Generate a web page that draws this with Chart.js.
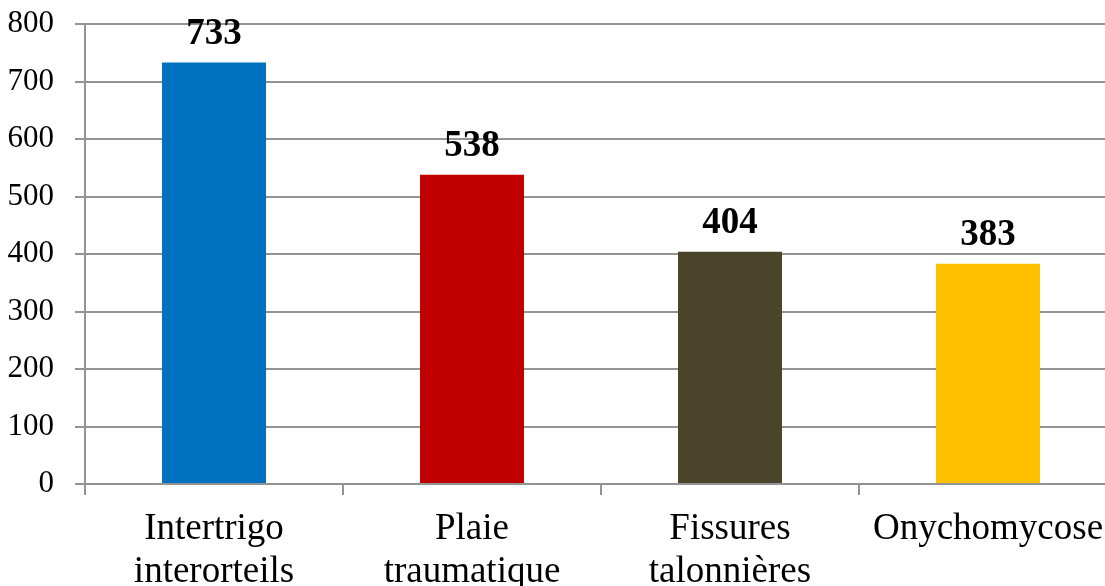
<!DOCTYPE html>
<html>
<head>
<meta charset="utf-8">
<script src="https://cdn.jsdelivr.net/npm/chart.js@4/dist/chart.umd.min.js"></script>
<style>
    html, body { margin: 0; padding: 0; background: #fff; overflow: hidden; }
    #wrap { position: relative; width: 1117px; height: 586px; }
</style>
</head>
<body>
<div id="wrap"><canvas id="chart"></canvas></div>
<script>
var categories = [
    ['Intertrigo', 'interorteils'],
    ['Plaie', 'traumatique'],
    ['Fissures', 'talonnières'],
    'Onychomycose'
];
var counts = [733, 538, 404, 383];
var barColors = ['#0070C0', '#C00000', '#4A442A', '#FFC000'];
var yTicks = [0, 100, 200, 300, 400, 500, 600, 700, 800];

var gridColor = '#939393';
var serif = "'Liberation Serif', 'Times New Roman', serif";

// writes the value above each bar
var valueLabels = {
    id: 'valueLabels',
    afterDatasetsDraw: function (chart) {
        var ctx = chart.ctx;
        var meta = chart.getDatasetMeta(0);
        ctx.save();
        ctx.font = 'bold 37px ' + serif;
        ctx.fillStyle = '#000';
        ctx.textAlign = 'center';
        ctx.textBaseline = 'alphabetic';
        meta.data.forEach(function (bar, i) {
            ctx.fillText(String(chart.data.datasets[0].data[i]), bar.x, bar.y - 19);
        });
        ctx.restore();
    }
};

var chart = new Chart(document.getElementById('chart').getContext('2d'), {
    type: 'bar',
    data: {
        labels: categories,
        datasets: [{
            data: counts,
            backgroundColor: barColors,
            borderWidth: 0,
            categoryPercentage: 1,
            barPercentage: 0.403
        }]
    },
    options: {
        responsive: true,
        maintainAspectRatio: false,
        animation: false,
        layout: { padding: { top: 24, right: 0, left: 0, bottom: 0 } },
        plugins: {
            legend: { display: false },
            tooltip: { enabled: false }
        },
        scales: {
            x: {
                offset: true,
                grid: {
                    offset: true,
                    drawOnChartArea: false,
                    drawTicks: true,
                    tickLength: 11,
                    color: gridColor,
                    lineWidth: 2
                },
                border: { display: true, color: gridColor, width: 2 },
                ticks: {
                    color: '#000',
                    font: { family: serif, size: 37, lineHeight: 1.15 },
                    padding: 13,
                    maxRotation: 0,
                    autoSkip: false
                },
                afterFit: function (scale) { scale.height = 102; }
            },
            y: {
                min: 0,
                max: 800,
                afterBuildTicks: function (scale) {
                    scale.ticks = yTicks.map(function (v) { return { value: v }; });
                },
                grid: {
                    color: gridColor,
                    lineWidth: 2,
                    tickLength: 10
                },
                border: { display: true, color: gridColor, width: 2 },
                ticks: {
                    color: '#000',
                    // small line height so the top label does not push the plot down
                    font: { family: serif, size: 31, lineHeight: 0.1 },
                    padding: 21
                },
                afterFit: function (scale) { scale.width = 85; }
            }
        }
    },
    plugins: [valueLabels]
});
</script>
</body>
</html>
